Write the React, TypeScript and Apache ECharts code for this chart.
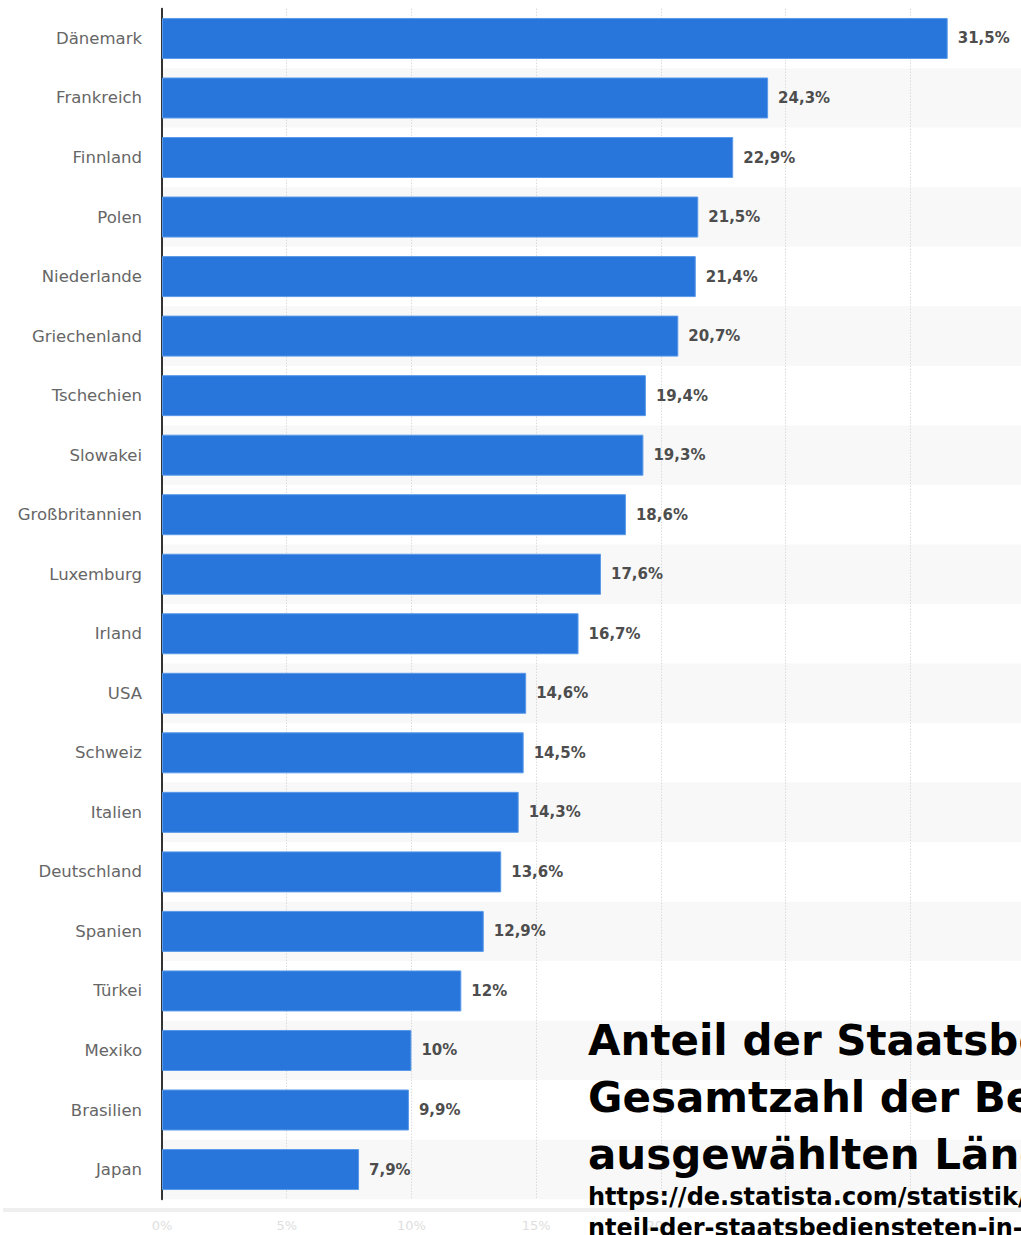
import React, { useEffect, useRef } from "react";
import * as echarts from "echarts";

const categories = [
  "Dänemark", "Frankreich", "Finnland", "Polen", "Niederlande", "Griechenland",
  "Tschechien", "Slowakei", "Großbritannien", "Luxemburg", "Irland", "USA",
  "Schweiz", "Italien", "Deutschland", "Spanien", "Türkei", "Mexiko", "Brasilien", "Japan",
];
const values = [31.5, 24.3, 22.9, 21.5, 21.4, 20.7, 19.4, 19.3, 18.6, 17.6, 16.7, 14.6, 14.5, 14.3, 13.6, 12.9, 12, 10, 9.9, 7.9];
const titleLines = [
  "Anteil der Staatsbediensteten an der",
  "Gesamtzahl der Beschäftigten in",
  "ausgewählten Ländern",
];
const urlLines = [
  "https://de.statista.com/statistik/daten/studie/",
  "nteil-der-staatsbediensteten-in-ausgewaehlten-laendern/",
];

const fmt = (v: number) => String(v).replace(".", ",") + "%";

const CHART_W = 1040;

export default function App() {
  const ref = useRef<HTMLDivElement>(null);
  useEffect(() => {
    if (!ref.current) return;
    const chart = echarts.init(ref.current, null, { renderer: "svg" });
    chart.setOption({
      animation: false,
      backgroundColor: "#ffffff",
      grid: {
        left: 162,
        top: 8.7,
        bottom: 35.7,
        right: CHART_W - 162 - 873,
        containLabel: false,
        outerBoundsMode: "none",
      },
      xAxis: {
        type: "value",
        min: 0,
        max: 35,
        interval: 5,
        axisLine: { show: false },
        axisTick: { show: false },
        axisLabel: {
          color: "#dedede",
          fontFamily: "DejaVu Sans",
          fontSize: 13,
          margin: 20,
          formatter: (v: number) => v + "%",
        },
        splitLine: { show: true, lineStyle: { color: "#cccccc", type: [1, 2], width: 1 } },
      },
      yAxis: {
        type: "category",
        data: categories,
        inverse: true,
        axisLine: { show: true, lineStyle: { color: "#333333", width: 2 } },
        axisTick: { show: false },
        axisLabel: { color: "#666666", fontFamily: "DejaVu Sans", fontSize: 16.5, margin: 20 },
        splitArea: { show: true, areaStyle: { color: ["#ffffff", "#f8f8f8"] } },
        splitLine: { show: false },
      },
      series: [
        {
          type: "bar",
          data: values,
          barWidth: 41,
          itemStyle: { color: "#2876dc", borderColor: "#5a9ae8", borderWidth: 1 },
          label: {
            show: true,
            position: "right",
            distance: 10,
            color: "#4d4d4d",
            fontFamily: "DejaVu Sans",
            fontWeight: "bold",
            fontSize: 15,
            formatter: (p: any) => fmt(p.value),
          },
        },
      ],
      graphic: [
        { type: "rect", shape: { x: 3, y: 1208, width: 1040, height: 4 }, style: { fill: "#efefef" }, z: 1 },
        {
          type: "text",
          x: 588,
          y: 1012,
          z: 10,
          style: {
            text: titleLines.join("\n"),
            font: "bold 42px 'DejaVu Sans'",
            fill: "#000000",
            lineHeight: 57,
          },
        },
        {
          type: "text",
          x: 588,
          y: 1181,
          z: 10,
          style: {
            text: urlLines.join("\n"),
            font: "bold 24px 'DejaVu Sans'",
            fill: "#000000",
            lineHeight: 31,
          },
        },
      ],
    });
    return () => chart.dispose();
  }, []);
  return (
    <div style={{ position: "absolute", left: 0, top: 0, width: 1021, height: 1235, overflow: "hidden" }}>
      <div ref={ref} style={{ width: CHART_W, height: 1235 }} />
    </div>
  );
}
